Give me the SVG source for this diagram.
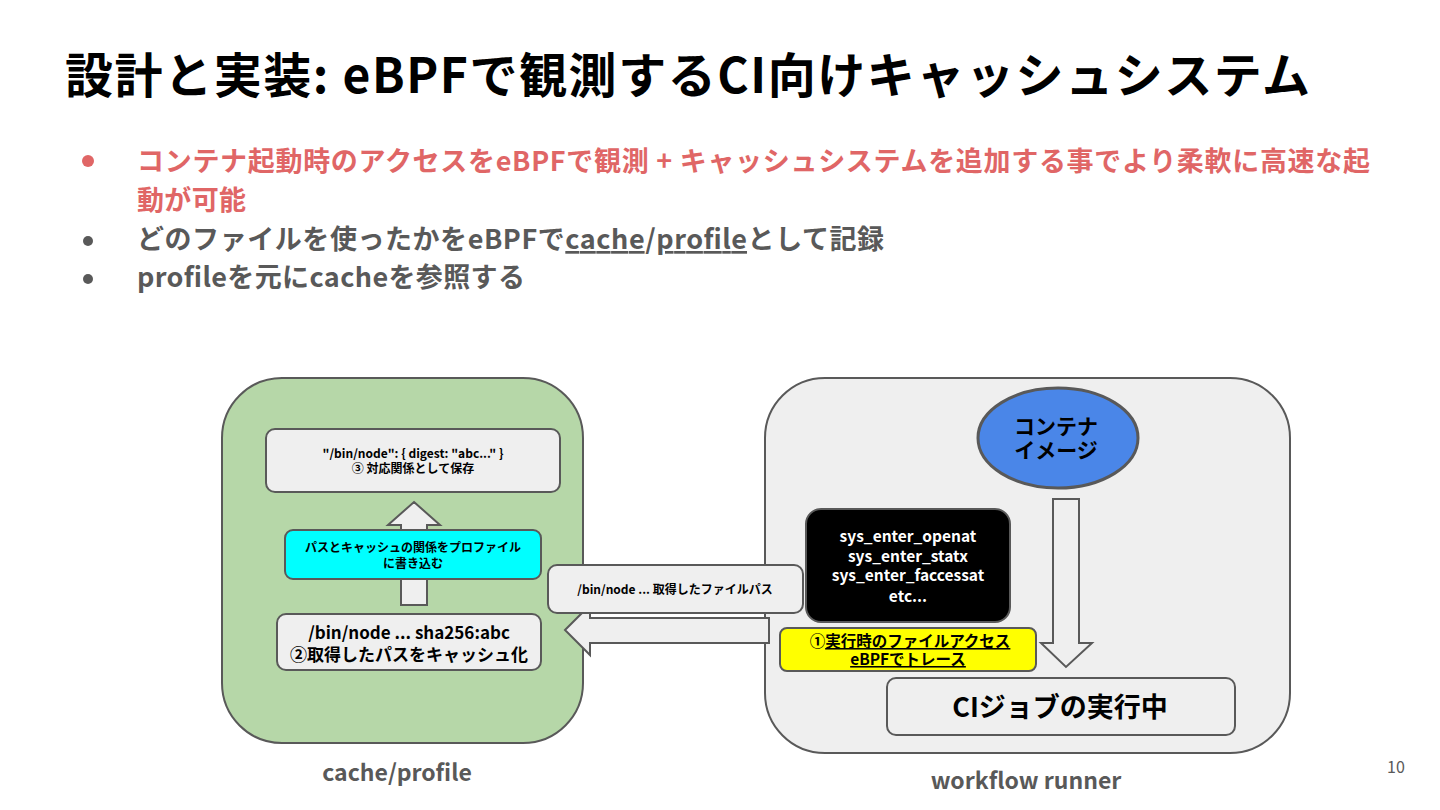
<svg xmlns="http://www.w3.org/2000/svg" width="1440" height="810" viewBox="0 0 1440 810">
<defs>
<style>
text{font-family:"Noto Sans CJK JP","Noto Sans",sans-serif;font-weight:bold}
.box{fill:#efefef;stroke:#595959;stroke-width:2}
.c{text-anchor:middle}
.red{fill:#e06666}
.gray{fill:#595959}
.ul{text-decoration:underline}
</style>
</defs>
<rect width="1440" height="810" fill="#ffffff"/>
<text x="65" y="93" font-size="48" fill="#000" textLength="1245" lengthAdjust="spacing">設計と実装: eBPFで観測するCI向けキャッシュシステム</text>
<g id="bullets">
<circle cx="88" cy="161" r="6" fill="#e06666"/>
<text x="137" y="171" font-size="27" class="red" textLength="1233" lengthAdjust="spacing">コンテナ起動時のアクセスをeBPFで観測 + キャッシュシステムを追加する事でより柔軟に高速な起</text>
<text x="137" y="210" font-size="27" class="red" textLength="109" lengthAdjust="spacing">動が可能</text>
<circle cx="88" cy="241" r="5" fill="#595959"/>
<text x="137" y="249" font-size="27" class="gray" textLength="747" lengthAdjust="spacing">どのファイルを使ったかをeBPFで<tspan class="ul">cache</tspan>/<tspan class="ul">profile</tspan>として記録</text>
<circle cx="88" cy="279" r="5" fill="#595959"/>
<text x="137" y="287" font-size="27" class="gray" textLength="388" lengthAdjust="spacing">profileを元にcacheを参照する</text>
</g>
<g id="cache-profile">
<rect x="222" y="378" width="361" height="365" rx="60" fill="#b6d7a8" stroke="#595959" stroke-width="2"/>
<text x="397" y="781" font-size="23" class="c gray">cache/profile</text>
</g>
<g id="workflow-runner">
<rect x="765" y="378" width="525" height="375" rx="60" fill="#efefef" stroke="#595959" stroke-width="2"/>
<text x="1026" y="789" font-size="23" class="c gray">workflow runner</text>
</g>
<g id="connectors">
<polygon class="box" points="414,502 440,525 427,525 427,605 401,605 401,525 388,525"/>
<polygon class="box" points="1053,499 1079,499 1079,643 1092,643 1066,667 1041,643 1053,643"/>
<polygon class="box" points="565,630 590,605 590,618 769,618 769,643 590,643 590,655"/>
</g>
<g id="profile-entry">
<rect class="box" x="266" y="429" width="294" height="63" rx="9"/>
<text x="413" y="458" font-size="12" class="c" fill="#000">"/bin/node": { digest: "abc..." }</text>
<text x="413" y="473" font-size="12" class="c" fill="#000">③ 対応関係として保存</text>
</g>
<g id="write-profile">
<rect x="285" y="530" width="256" height="49" rx="8" fill="#00ffff" stroke="#595959" stroke-width="2"/>
<text x="413" y="552" font-size="12" class="c" fill="#000">パスとキャッシュの関係をプロファイル</text>
<text x="413" y="568" font-size="12" class="c" fill="#000">に書き込む</text>
</g>
<g id="cache-entry">
<rect class="box" x="277" y="614" width="264" height="56" rx="9"/>
<text x="409" y="639" font-size="17" class="c" fill="#000">/bin/node ... sha256:abc</text>
<text x="409" y="661" font-size="17" class="c" fill="#000">②取得したパスをキャッシュ化</text>
</g>
<g id="file-path-label">
<rect class="box" x="548" y="565" width="255" height="48" rx="9"/>
<text x="675" y="594" font-size="12" class="c" fill="#000">/bin/node ... 取得したファイルパス</text>
</g>
<g id="syscalls">
<rect x="806" y="509" width="204" height="113" rx="15" fill="#000" stroke="#595959" stroke-width="2"/>
<text x="908" y="542" font-size="15.5" class="c" fill="#fff">sys_enter_openat</text>
<text x="908" y="562" font-size="15.5" class="c" fill="#fff">sys_enter_statx</text>
<text x="908" y="581" font-size="15.5" class="c" fill="#fff">sys_enter_faccessat</text>
<text x="908" y="602" font-size="15.5" class="c" fill="#fff">etc...</text>
</g>
<g id="trace-label">
<rect x="780" y="628" width="256" height="43" rx="7" fill="#ffff00" stroke="#595959" stroke-width="2"/>
<text x="910" y="647" font-size="15.5" class="c" fill="#000">①<tspan class="ul">実行時のファイルアクセス</tspan></text>
<text x="908" y="665" font-size="15.5" class="c ul" fill="#000">eBPFでトレース</text>
</g>
<g id="container-image">
<ellipse cx="1058" cy="438" rx="80" ry="50" fill="#4a86e8" stroke="#595959" stroke-width="3"/>
<text x="1056" y="434" font-size="21" class="c" fill="#000">コンテナ</text>
<text x="1056" y="458" font-size="21" class="c" fill="#000">イメージ</text>
</g>
<g id="ci-job">
<rect class="box" x="887" y="678" width="348" height="57" rx="9"/>
<text x="1060" y="717" font-size="27" class="c" fill="#000">CIジョブの実行中</text>
</g>
<text x="1396" y="773" font-size="16" class="c gray" style="font-weight:normal">10</text>
</svg>
